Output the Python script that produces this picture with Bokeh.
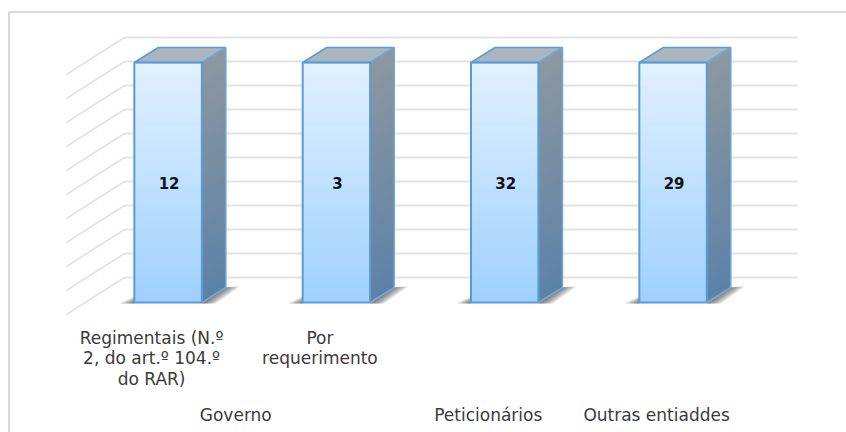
from bokeh.plotting import figure
from bokeh.embed import file_html
from bokeh.resources import INLINE
from bokeh.models import Range1d
from bokeh.core.properties import value

# --- data ---
bar_labels = ["12", "3", "32", "29"]
shares = [100, 100, 100, 100]
categories = ["Regimentais (N.º\n2, do art.º 104.º\ndo RAR)", "Por\nrequerimento", "", ""]
groups = ["Governo", "Peticionários", "Outras entiaddes"]
group_pos = [0.5, 2, 3]
ticks = [0, 10, 20, 30, 40, 50, 60, 70, 80, 90, 100]

# --- geometry: page pixels -> data units ---
XS = 168.33
YS = 2.4
X0 = 167.6
Y0 = 302.0
def ux(px): return px / XS
def uy(px): return px / YS

W, H = 846, 432
p = figure(width=W, height=H, output_backend="svg", toolbar_location=None,
           x_range=Range1d(-X0 / XS, (W - X0) / XS),
           y_range=Range1d((Y0 - H) / YS, Y0 / YS),
           min_border=0, outline_line_color=None)
p.axis.visible = False
p.grid.visible = False

def lerp(a, b, t):
    return "#%02x%02x%02x" % tuple(round(a[i] + (b[i] - a[i]) * t) for i in range(3))

BW = ux(67.5)            # bar width
DX, DY = ux(24), uy(15)  # bar depth
WX, WY = ux(58), uy(37)  # side-wall depth
BACK = uy(25)            # back wall above front floor
xl, xr = ux(124 - X0), ux(797 - X0)
GRID = "#e2e2e2"

# chart frame
fx = (8.5 - X0) / XS
fy = (Y0 - 11.5) / YS
p.segment([fx, fx], [fy, fy], [(W - X0) / XS, fx], [fy, (Y0 - H) / YS],
          line_color="#d9d9d9", line_width=2)

# walls
p.segment([xl] * len(ticks), [t + BACK for t in ticks], [xr] * len(ticks), [t + BACK for t in ticks],
          line_color=GRID, line_width=2)
p.segment([xl - WX] * len(ticks), [t + BACK - WY for t in ticks], [xl] * len(ticks), [t + BACK for t in ticks],
          line_color=GRID, line_width=1.6)

# shadows, bars
N = 40
for i, s in enumerate(shares):
    l = i - BW / 2
    r = i + BW / 2
    # floor shadow
    for k in range(6):
        f = 1 - k / 6
        p.patch([r, r + ux(24), r + ux(24 + 14 * f), r + ux(14 * f)],
                [uy(-1), uy(15), uy(16), uy(-1)], fill_color="#303030", fill_alpha=0.14, line_color=None)
        p.patch([l - ux(15 * f), l, l], [uy(-1), uy(6 * f), uy(-1)],
                fill_color="#303030", fill_alpha=0.14, line_color=None)
    step = s / N
    # right side, gradient painted bottom-up so that no seams show
    for k in range(N):
        t = (k + 0.5) / N
        y0 = k * step
        c = lerp((0x5c, 0x82, 0xa8), (0x8d, 0x97, 0x9f), t)
        p.patch([r, r + DX, r + DX, r], [y0, y0 + DY, s + DY, s], fill_color=c, line_color=None)
    # front, gradient
    for k in range(N):
        t = (k + 0.5) / N
        c = lerp((0x9e, 0xd0, 0xff), (0xe2, 0xf1, 0xff), t)
        p.quad(left=l, right=r, bottom=k * step, top=s, fill_color=c, line_color=None)
    # top
    p.patch([l, l + DX, r + DX, r], [s, s + DY, s + DY, s], fill_color="#a9b5bf", line_color="#5b9bd5", line_width=1.5)
    # outlines
    p.patch([r, r + DX, r + DX, r], [0, DY, s + DY, s], fill_color=None, line_color="#6fa8dc", line_width=1.5)
    p.quad(left=l, right=r, bottom=0, top=s, fill_color=None, line_color="#5b9bd5", line_width=2)

FONT = value("DejaVu Sans")
# value labels
p.text([i + ux(1) for i in range(4)], [s / 2 for s in shares], text=bar_labels,
       text_font=FONT, text_font_style="bold", text_font_size="15px",
       text_color="#111111", text_align="center", text_baseline="middle")

# category labels
LX = ux(-16.5)
p.text([i + LX for i in range(4)], [uy(-25)] * 4, text=categories, text_font=FONT, text_font_size="17px",
       text_color="#3a3a3a", text_align="center", text_baseline="top", text_line_height=1.03)
p.text([g + LX for g in group_pos], [uy(-112)] * 3, text=groups, text_font=FONT, text_font_size="17px",
       text_color="#3a3a3a", text_align="center", text_baseline="middle")

open("out.html", "w").write(file_html(p, INLINE))
